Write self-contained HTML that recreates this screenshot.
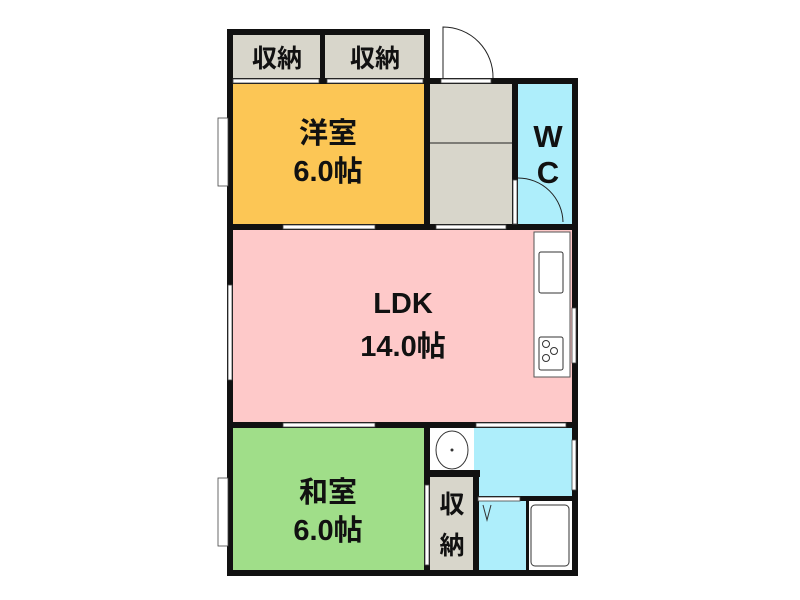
<!DOCTYPE html>
<html><head><meta charset="utf-8"><style>
html,body{margin:0;padding:0;background:#fff;}
svg{display:block}
text{font-family:"Liberation Sans","Noto Sans CJK JP",sans-serif;fill:#111;text-anchor:middle;font-weight:bold}
</style></head><body>
<svg width="800" height="600" viewBox="0 0 800 600" xmlns="http://www.w3.org/2000/svg">
<rect width="800" height="600" fill="#fff"/>
<rect x="233" y="34" width="90" height="46" fill="#d8d6cb"/>
<rect x="325" y="34" width="100" height="46" fill="#d8d6cb"/>
<rect x="233" y="83" width="192" height="142" fill="#fcc655"/>
<rect x="429" y="83" width="85" height="142" fill="#d8d6cb"/>
<line x1="429" y1="143" x2="514" y2="143" stroke="#222" stroke-width="1"/>
<rect x="517" y="83" width="56" height="142" fill="#aeeefb"/>
<rect x="233" y="229" width="340" height="195" fill="#fec9c9"/>
<rect x="233" y="427" width="192" height="145" fill="#a0de89"/>
<rect x="429" y="427" width="144" height="70" fill="#aeeefb"/>
<rect x="429" y="427" width="45" height="45" fill="#fff"/>
<rect x="430" y="477" width="43" height="93" fill="#d8d6cb"/>
<rect x="478" y="500" width="49" height="70" fill="#aeeefb"/>
<rect x="527" y="500" width="45" height="70" fill="#fff"/>
<rect x="531" y="505" width="38" height="61" rx="4" fill="#fff" stroke="#333" stroke-width="1"/>
<rect x="534" y="232" width="36" height="145" fill="#fff" stroke="#555" stroke-width="1"/>
<rect x="539" y="252" width="24" height="41" rx="2" fill="#fff" stroke="#333"/>
<rect x="539" y="337" width="24" height="33" rx="2" fill="#fff" stroke="#333"/>
<circle cx="546" cy="344" r="3.5" fill="none" stroke="#333"/>
<circle cx="554" cy="351" r="3.5" fill="none" stroke="#333"/>
<circle cx="546" cy="358" r="3.5" fill="none" stroke="#333"/>
<ellipse cx="452" cy="450" rx="16" ry="19" fill="#fff" stroke="#333"/>
<circle cx="452" cy="450" r="1.5" fill="#333"/>
<g fill="#111">
<rect x="227" y="29" width="203" height="6"/>
<rect x="227" y="29" width="6" height="547"/>
<rect x="320" y="29" width="5" height="54"/>
<rect x="424" y="29" width="6" height="201"/>
<rect x="227" y="78" width="351" height="6"/>
<rect x="572" y="78" width="6" height="498"/>
<rect x="512" y="78" width="6" height="152"/>
<rect x="227" y="224" width="351" height="6"/>
<rect x="227" y="422" width="351" height="6"/>
<rect x="227" y="570" width="351" height="6"/>
<rect x="424" y="422" width="6" height="154"/>
<rect x="424" y="470" width="56" height="7"/>
<rect x="473" y="470" width="6" height="106"/>
<rect x="478" y="496" width="100" height="5"/>
<rect x="526" y="496" width="3" height="80"/>
</g>
<g fill="#fff" stroke="#444" stroke-width="0.8">
<rect x="233" y="79" width="86" height="4"/>
<rect x="327" y="79" width="96" height="4"/>
<rect x="441" y="79" width="50" height="4"/>
<rect x="283" y="225" width="92" height="4"/>
<rect x="436" y="225" width="70" height="4"/>
<rect x="283" y="423" width="92" height="4"/>
<rect x="476" y="423" width="90" height="4"/>
<rect x="478" y="497" width="42" height="4"/>
<rect x="218" y="118" width="10" height="68"/>
<rect x="218" y="478" width="10" height="68"/>
<rect x="228" y="285" width="4" height="95"/>
<rect x="572" y="308" width="4" height="55"/>
<rect x="572" y="440" width="4" height="50"/>
<rect x="425" y="485" width="4" height="80"/>
<rect x="513" y="180" width="4" height="44"/>
</g>
<path d="M443 78 V27 A50 50 0 0 1 493 78" fill="none" stroke="#222" stroke-width="1"/>
<path d="M518 178 A45 45 0 0 1 563 222" fill="none" stroke="#222" stroke-width="1"/>
<path d="M483 505 L487 520 L491 505" fill="none" stroke="#333" stroke-width="1"/>
<g font-size="25">
<text x="277" y="67">収納</text>
<text x="375" y="67">収納</text>
</g>
<g font-size="29">
<text x="328" y="143">洋室</text>
<text x="328" y="181">6.0帖</text>
<text x="328" y="502">和室</text>
<text x="328" y="540">6.0帖</text>
<text x="548" y="147" font-size="31">W</text>
<text x="548" y="183" font-size="31">C</text>
<text x="403" y="313">LDK</text>
<text x="403" y="356">14.0帖</text>
</g>
<g font-size="25">
<text x="452" y="513">収</text>
<text x="452" y="554">納</text>
</g>
</svg>
</body></html>
